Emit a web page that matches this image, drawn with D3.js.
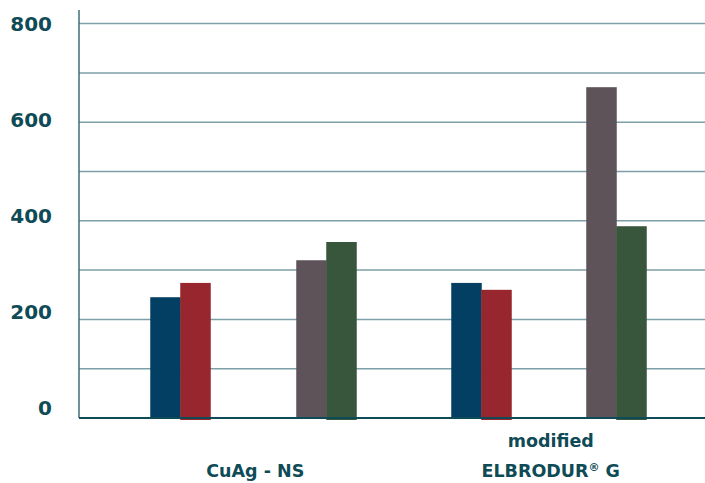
<!DOCTYPE html>
<html>
<head>
<meta charset="utf-8">
<script src="https://cdn.jsdelivr.net/npm/d3@7"></script>
<style>
  body { margin: 0; background: #fff; }
  text { font-family: "DejaVu Sans", sans-serif; fill: #0f4b56; }
</style>
</head>
<body>
<div id="chart-area"></div>
<script>
// data
const groups = ["CuAg - NS", "modified ELBRODUR® G"]
const groupLines = [["CuAg - NS"], ["modified", "ELBRODUR|® G"]]
const series = ["s1", "s2", "s3", "s4"]
const seriesColors = ["#033f63", "#97262e", "#5e5358", "#38563c"]
const values = [
  [245, 274, 320, 357],
  [274, 260, 671, 389]
]
const yTicks = [0, 200, 400, 600, 800]
const gridTicks = [100, 200, 300, 400, 500, 600, 700, 800]

const WIDTH = 705
const HEIGHT = 483
const LEFT = 79
const BASE = 418
// distance from cluster centre to each pair of bars
const pairOffset = [73, 67.5]

const svg = d3.select("#chart-area").append("svg")
  .attr("width", WIDTH)
  .attr("height", HEIGHT)

// scales
const y = d3.scaleLinear()
  .domain([0, 800])
  .range([BASE, 23.6])
// tick labels sit a little above their gridlines in the original
const yLabel = d3.scaleLinear()
  .domain([0, 800])
  .range([408, 24])
const x0 = d3.scaleBand()
  .domain(groups)
  .range([105.5, 696.5])
const xPair = d3.scaleBand()
  .domain([0, 1])
  .range([-30, 30])

// gridlines
svg.append("g")
  .selectAll("line")
  .data(gridTicks)
  .enter().append("line")
    .attr("x1", LEFT)
    .attr("x2", WIDTH)
    .attr("y1", d => y(d))
    .attr("y2", d => y(d))
    .attr("stroke", "#7d9fa7")
    .attr("stroke-width", 1.5)

// bars
groups.forEach((grp, gi) => {
  const cx = x0(grp) + x0.bandwidth() / 2
  series.forEach((s, si) => {
    const pc = cx + (si < 2 ? -1 : 1) * pairOffset[gi]
    svg.append("rect")
      .attr("x", pc + xPair(si % 2))
      .attr("y", y(values[gi][si]))
      .attr("width", xPair.bandwidth() + 0.5)
      .attr("height", BASE - y(values[gi][si]) + (si % 2 ? 2 : 0))
      .attr("fill", seriesColors[si])
  })
})

// axes lines
svg.append("line")
  .attr("x1", LEFT).attr("x2", LEFT)
  .attr("y1", 10).attr("y2", BASE)
  .attr("stroke", "#3f6e76")
  .attr("stroke-width", 1.5)
svg.append("line")
  .attr("x1", LEFT).attr("x2", WIDTH)
  .attr("y1", BASE).attr("y2", BASE)
  .attr("stroke", "#0f4b56")
  .attr("stroke-width", 2)

// y labels
svg.append("g")
  .selectAll("text")
  .data(yTicks)
  .enter().append("text")
    .attr("x", 52)
    .attr("y", d => yLabel(d))
    .attr("dy", "0.36em")
    .attr("text-anchor", "end")
    .attr("font-size", "20px")
    .attr("font-weight", "bold")
    .text(d => d)

// category labels
groups.forEach((grp, gi) => {
  const cx = x0(grp) + x0.bandwidth() / 2 + 2
  const lines = groupLines[gi]
  lines.forEach((ln, li) => {
    const t = svg.append("text")
      .attr("x", cx)
      .attr("y", 477 - (lines.length - 1 - li) * 30)
      .attr("text-anchor", "middle")
      .attr("font-size", "17.5px")
      .attr("font-weight", "bold")
    const parts = ln.split("|")
    t.append("tspan").text(parts[0])
    if (parts[1]) {
      t.append("tspan")
        .attr("font-size", "11px")
        .attr("dy", "-6")
        .text(parts[1].slice(0, 1))
      t.append("tspan")
        .attr("dy", "6")
        .text(parts[1].slice(1))
    }
  })
})
</script>
</body>
</html>
